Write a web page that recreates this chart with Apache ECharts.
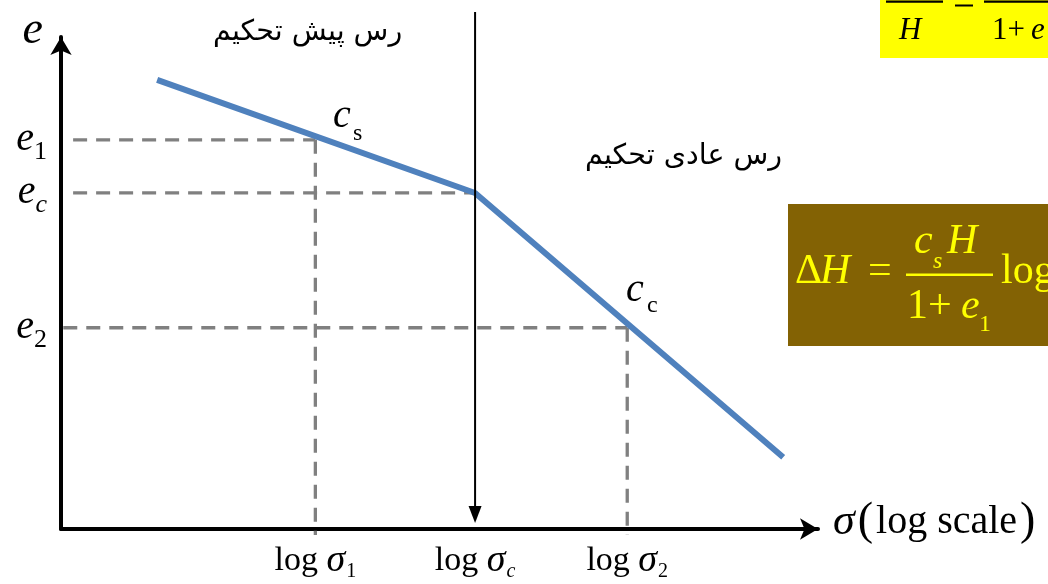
<!DOCTYPE html>
<html><head><meta charset="utf-8">
<script src="https://cdn.jsdelivr.net/npm/echarts@6/dist/echarts.min.js"></script>
<style>html,body{margin:0;padding:0;background:#fff}#c{width:1048px;height:584px}</style>
</head><body><div id="c"></div>
<script>
// ---- data ----
const xTickValues = [3.36, 5.47, 7.48];          // log σ1, log σc, log σ2
const xTickSubs = ['1', 'c', '2'];
const yTickValues = [7.91, 6.83, 4.09];          // e1, ec, e2
const yTickSubs = ['1', 'c', '2'];
const curveX = [1.27, 5.47, 9.54];
const curveY = [9.13, 6.83, 1.46];
const guideStartX = [0.16, 0.16, 0.03];
const guideBottomY = -0.12;
const arrowTopY = 10.51;
const arrowTipY = 0.12;
const zoneLabels = ['رس پیش تحکیم', 'رس عادی تحکیم'];

const SERIF = "'Liberation Serif','DejaVu Serif',serif";
const chart = echarts.init(document.getElementById('c'));

function idx(arr, v) { let b = 0; arr.forEach((a, i) => { if (Math.abs(a - v) < Math.abs(arr[b] - v)) b = i; }); return b; }

const guideSeries = [];
yTickValues.forEach((y, i) => {
  guideSeries.push({
    type: 'line', data: [[guideStartX[i], y], [xTickValues[i], y]], symbol: 'none', clip: false, z: 1, silent: true,
    lineStyle: { color: '#808080', width: 3.3, type: [14, 9] }
  });
  if (i !== 1) {
    guideSeries.push({
      type: 'line', data: [[xTickValues[i], y], [xTickValues[i], guideBottomY]], symbol: 'none', clip: false, z: 1, silent: true,
      lineStyle: { color: '#808080', width: 3.3, type: [14, 9] }
    });
  }
});

const ital = (size, extra) => Object.assign({ fontFamily: SERIF, fontStyle: 'italic', fontSize: size, color: '#000' }, extra || {});
const upr = (size, extra) => Object.assign({ fontFamily: SERIF, fontSize: size, color: '#000' }, extra || {});

const option = {
  animation: false,
  backgroundColor: '#fff',
  grid: { left: 61, top: 37, width: 757, height: 492, containLabel: false, outerBoundsMode: 'none' },
  xAxis: {
    type: 'value', min: 0, max: 10,
    axisLine: { show: true, symbol: ['none', 'arrow'], symbolSize: [16, 18], lineStyle: { color: '#000', width: 4 } },
    axisTick: { show: false }, splitLine: { show: false },
    axisLabel: {
      customValues: xTickValues, margin: 14,
      formatter: v => { const s = xTickSubs[idx(xTickValues, v)]; return '{l|log }{g|σ}{' + (s === 'c' ? 'si' : 's') + '|' + s + '}'; },
      rich: {
        l: upr(34, { lineHeight: 36 }),
        g: ital(38, { lineHeight: 36 }),
        s: upr(20, { lineHeight: 20, padding: [22, 0, 0, 1] }),
        si: ital(20, { lineHeight: 20, padding: [22, 0, 0, 1] })
      }
    },
    name: '{g|σ}{p|(}{t|log scale}{p|)}', nameLocation: 'end', nameGap: 15,
    nameTextStyle: {
      align: 'left', verticalAlign: 'middle', padding: [0, 0, 14, 0],
      rich: {
        g: ital(44, { lineHeight: 46 }),
        p: upr(46, { lineHeight: 46, padding: [0, 3, 0, 3] }),
        t: upr(40, { lineHeight: 46 })
      }
    }
  },
  yAxis: {
    type: 'value', min: 0, max: 10,
    axisLine: { show: true, symbol: ['none', 'arrow'], symbolSize: [16, 18], lineStyle: { color: '#000', width: 4 } },
    axisTick: { show: false }, splitLine: { show: false },
    axisLabel: {
      customValues: yTickValues, margin: 14,
      formatter: v => { const s = yTickSubs[idx(yTickValues, v)]; return '{e|e}{' + (s === 'c' ? 'si' : 's') + '|' + s + '}'; },
      rich: {
        e: ital(40, { lineHeight: 40 }),
        s: upr(26, { lineHeight: 26, padding: [24, 0, 0, 0] }),
        si: ital(26, { lineHeight: 26, padding: [24, 0, 0, 0] })
      }
    },
    name: 'e', nameLocation: 'end', nameGap: 6,
    nameTextStyle: { align: 'right', verticalAlign: 'middle', padding: [0, 18, 0, 0], fontFamily: SERIF, fontStyle: 'italic', fontSize: 46, color: '#000' }
  },
  series: guideSeries.concat([{
    type: 'line', data: curveX.map((x, i) => [x, curveY[i]]), symbol: 'none', clip: false, z: 3, silent: true,
    lineStyle: { color: '#4f81bd', width: 6, cap: 'butt' }
  }, {
    type: 'custom', clip: false, silent: true, z: 4,
    data: [[xTickValues[1], arrowTopY, arrowTipY]],
    renderItem: (params, api) => {
      const p0 = api.coord([api.value(0), api.value(1)]);
      const p1 = api.coord([api.value(0), api.value(2)]);
      const hl = 17, hw = 6.5;
      return {
        type: 'group', children: [
          { type: 'line', shape: { x1: p0[0], y1: p0[1], x2: p1[0], y2: p1[1] - hl + 2 }, style: { stroke: '#000', lineWidth: 2 } },
          { type: 'polygon', shape: { points: [[p1[0] - hw, p1[1] - hl], [p1[0] + hw, p1[1] - hl], [p1[0], p1[1]]] }, style: { fill: '#000' } }
        ]
      };
    }
  }]),
  graphic: [
    { type: 'text', left: 213, top: 18, style: { text: zoneLabels[0], font: "28.5px 'DejaVu Sans'", fill: '#000' } },
    { type: 'text', left: 585, top: 142, style: { text: zoneLabels[1], font: "28.5px 'DejaVu Sans'", fill: '#000' } },
    // cs, cc labels
    { type: 'text', x: 333, y: 136, style: { text: 'c', font: "italic 40px 'Liberation Serif'", fill: '#000', verticalAlign: 'bottom' } },
    { type: 'text', x: 353, y: 146, style: { text: 's', font: "24px 'Liberation Serif'", fill: '#000', verticalAlign: 'bottom' } },
    { type: 'text', x: 626, y: 310, style: { text: 'c', font: "italic 40px 'Liberation Serif'", fill: '#000', verticalAlign: 'bottom' } },
    { type: 'text', x: 647, y: 318, style: { text: 'c', font: "24px 'Liberation Serif'", fill: '#000', verticalAlign: 'bottom' } },
    // yellow box
    { type: 'rect', shape: { x: 880, y: 0, width: 168, height: 58 }, style: { fill: '#ffff00' } },
    { type: 'rect', shape: { x: 886, y: 0.5, width: 57, height: 2.2 }, style: { fill: '#000' } },
    { type: 'rect', shape: { x: 955, y: 4.5, width: 18, height: 2 }, style: { fill: '#000' } },
    { type: 'rect', shape: { x: 984, y: 0.5, width: 64, height: 2.2 }, style: { fill: '#000' } },
    { type: 'text', x: 899, y: 46, style: { text: 'H', font: "italic 31px 'Liberation Serif'", fill: '#000', verticalAlign: 'bottom' } },
    { type: 'text', x: 992, y: 46, style: { text: '1+', font: "31px 'Liberation Serif'", fill: '#000', verticalAlign: 'bottom' } },
    { type: 'text', x: 1031, y: 46, style: { text: 'e', font: "italic 31px 'Liberation Serif'", fill: '#000', verticalAlign: 'bottom' } },
    // brown box
    { type: 'rect', shape: { x: 788, y: 204, width: 260, height: 142 }, style: { fill: '#836204' } },
    { type: 'text', x: 795, y: 293, style: { text: 'Δ', font: "42px 'Liberation Serif'", fill: '#ffff00', verticalAlign: 'bottom' } },
    { type: 'text', x: 820, y: 293, style: { text: 'H', font: "italic 42px 'Liberation Serif'", fill: '#ffff00', verticalAlign: 'bottom' } },
    { type: 'text', x: 868, y: 293, style: { text: '=', font: "42px 'Liberation Serif'", fill: '#ffff00', verticalAlign: 'bottom' } },
    { type: 'rect', shape: { x: 906, y: 273.5, width: 87, height: 2.5 }, style: { fill: '#ffff00' } },
    { type: 'text', x: 914, y: 263, style: { text: 'c', font: "italic 42px 'Liberation Serif'", fill: '#ffff00', verticalAlign: 'bottom' } },
    { type: 'text', x: 933, y: 274, style: { text: 's', font: "italic 24px 'Liberation Serif'", fill: '#ffff00', verticalAlign: 'bottom' } },
    { type: 'text', x: 947, y: 263, style: { text: 'H', font: "italic 42px 'Liberation Serif'", fill: '#ffff00', verticalAlign: 'bottom' } },
    { type: 'text', x: 907, y: 328, style: { text: '1+', font: "42px 'Liberation Serif'", fill: '#ffff00', verticalAlign: 'bottom' } },
    { type: 'text', x: 961, y: 328, style: { text: 'e', font: "italic 42px 'Liberation Serif'", fill: '#ffff00', verticalAlign: 'bottom' } },
    { type: 'text', x: 979, y: 337, style: { text: '1', font: "24px 'Liberation Serif'", fill: '#ffff00', verticalAlign: 'bottom' } },
    { type: 'text', x: 1001, y: 293, style: { text: 'log', font: "42px 'Liberation Serif'", fill: '#ffff00', verticalAlign: 'bottom' } }
  ]
};
chart.setOption(option);
</script></body></html>
